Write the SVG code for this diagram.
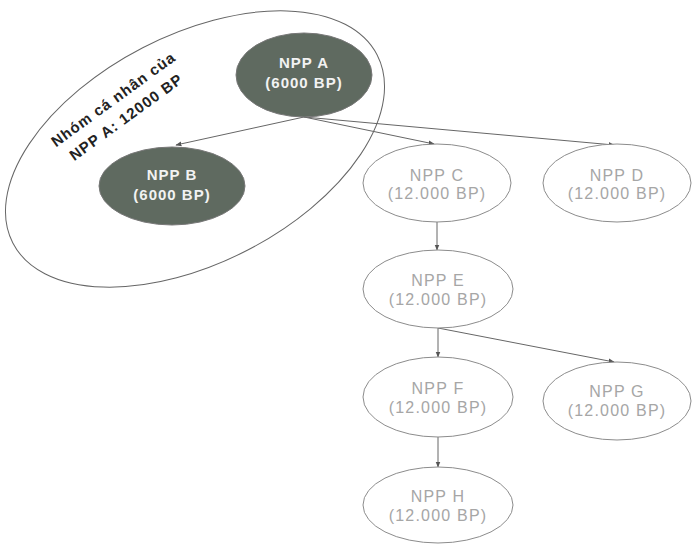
<svg xmlns="http://www.w3.org/2000/svg" width="700" height="548" viewBox="0 0 700 548">
<defs>
<marker id="arr" viewBox="0 0 10 10" refX="9" refY="5" markerWidth="6" markerHeight="6" orient="auto" markerUnits="userSpaceOnUse">
<path d="M0,1 L10,5 L0,9 Z" fill="#555"/>
</marker>
<style>
.dark{fill:#5f6a60;stroke:#777;stroke-width:1}
.light{fill:#fff;stroke:#8c8c8c;stroke-width:1}
.dt{font-family:"Liberation Sans",Arial,sans-serif;font-size:15px;font-weight:bold;fill:#f2f2f2;text-anchor:middle;letter-spacing:1px}
.lt{font-family:"Liberation Sans",Arial,sans-serif;font-size:16px;fill:#a6a6a6;text-anchor:middle;letter-spacing:1.2px}
.conn{stroke:#666;stroke-width:1;fill:none;marker-end:url(#arr)}
.grp{fill:none;stroke:#666;stroke-width:1}
.gt{font-family:"Liberation Sans",Arial,sans-serif;font-size:15px;font-weight:bold;fill:#222;text-anchor:middle;letter-spacing:1px}
</style>
</defs>
<rect width="700" height="548" fill="#fff"/>
<g id="group-A">
<ellipse class="grp" cx="195" cy="149" rx="205" ry="114" transform="rotate(-27.3 195 149)"/>
<text class="gt" transform="translate(121 110) rotate(-36)"><tspan x="0" y="-8">Nhóm cá nhân của</tspan><tspan x="0" y="14">NPP A: 12000 BP</tspan></text>
</g>
<g id="connectors">
<line class="conn" x1="304" y1="117" x2="176" y2="145"/>
<line class="conn" x1="304" y1="117" x2="434" y2="144"/>
<line class="conn" x1="304" y1="117" x2="614" y2="145"/>
<line class="conn" x1="437" y1="222" x2="437" y2="250"/>
<line class="conn" x1="438" y1="328" x2="438" y2="357"/>
<line class="conn" x1="438" y1="328" x2="614" y2="362"/>
<line class="conn" x1="438" y1="437" x2="438" y2="467"/>
</g>
<g id="npp-a">
<ellipse class="dark" cx="304" cy="75" rx="68" ry="42"/>
<text class="dt" x="304" y="68">NPP A</text>
<text class="dt" x="304" y="88">(6000 BP)</text>
</g>
<g id="npp-b">
<ellipse class="dark" cx="172" cy="186" rx="73" ry="39"/>
<text class="dt" x="172" y="180">NPP B</text>
<text class="dt" x="172" y="200">(6000 BP)</text>
</g>
<g id="npp-c">
<ellipse class="light" cx="437" cy="183" rx="74" ry="39"/>
<text class="lt" x="437" y="181">NPP C</text>
<text class="lt" x="437" y="199">(12.000 BP)</text>
</g>
<g id="npp-d">
<ellipse class="light" cx="617" cy="183" rx="74" ry="39"/>
<text class="lt" x="617" y="181">NPP D</text>
<text class="lt" x="617" y="199">(12.000 BP)</text>
</g>
<g id="npp-e">
<ellipse class="light" cx="438" cy="289" rx="75" ry="39"/>
<text class="lt" x="438" y="286">NPP E</text>
<text class="lt" x="438" y="305">(12.000 BP)</text>
</g>
<g id="npp-f">
<ellipse class="light" cx="438" cy="397" rx="75" ry="40"/>
<text class="lt" x="438" y="394">NPP F</text>
<text class="lt" x="438" y="413">(12.000 BP)</text>
</g>
<g id="npp-g">
<ellipse class="light" cx="617" cy="401" rx="74" ry="39"/>
<text class="lt" x="617" y="397">NPP G</text>
<text class="lt" x="617" y="416">(12.000 BP)</text>
</g>
<g id="npp-h">
<ellipse class="light" cx="438" cy="505" rx="75" ry="38"/>
<text class="lt" x="438" y="502">NPP H</text>
<text class="lt" x="438" y="521">(12.000 BP)</text>
</g>
</svg>
